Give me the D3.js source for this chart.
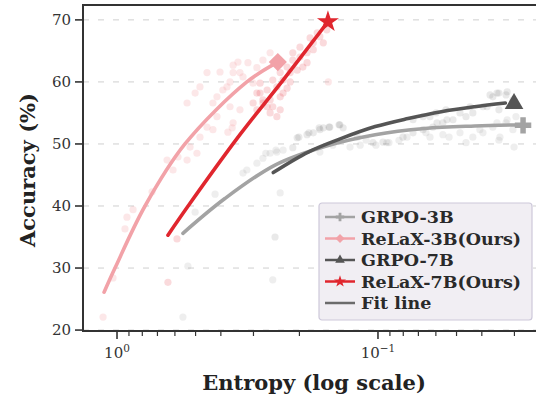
<!DOCTYPE html>
<html>
<head>
<meta charset="utf-8">
<script src="https://cdn.jsdelivr.net/npm/d3@7"></script>
<style>
  body { margin: 0; background: #fff; }
  svg { display: block; font-family: "DejaVu Serif", serif; }
</style>
</head>
<body>
<svg id="chart" width="536" height="397"></svg>
<script>
// entropy / accuracy samples
const relax3bPoints = [
  [0.539,56.6],[0.502,58.2],[0.481,59.2],[0.452,61.5],[0.414,57.6],[0.403,61.6],[0.379,59.2],
  [0.359,62.7],[0.344,63.2],[0.329,60.8],[0.301,59.8],[0.338,55.5],[0.369,56.0],[0.429,52.3],
  [0.481,51.1],[0.525,49.5],[0.539,47.4],[0.584,47.9],[0.452,52.7],[0.414,54.4],[0.494,48.5],
  [0.643,47.4],[0.610,45.8],[0.259,64.7],[0.276,63.5],[0.291,62.3],[0.315,63.1],[0.338,61.5],
  [0.359,61.5],[0.369,60.0],[0.393,58.7],[0.429,56.6],[0.362,52.6],[0.359,53.4],[0.376,51.9],
  [0.916,38.2],[0.868,39.4],[0.932,36.3],[0.734,42.3],[1.036,28.4],[1.131,22.1],[0.155,60.0]
];
const relax7bPoints = [
  [0.157,68.4],[0.167,67.3],[0.177,66.3],[0.187,64.7],[0.199,64.0],[0.212,63.5],[0.194,62.4],
  [0.217,61.5],[0.231,60.3],[0.244,59.2],[0.223,59.0],[0.237,57.6],[0.259,57.1],[0.253,56.0],
  [0.266,58.7],[0.283,58.2],[0.276,56.6],[0.237,55.5],[0.244,54.4],[0.259,55.0],[0.187,63.1],
  [0.204,61.9],[0.171,67.9],[0.162,66.3],[0.177,65.2],[0.199,65.6],[0.212,64.7],[0.223,62.4],
  [0.237,61.5],[0.253,60.3],[0.182,67.1],[0.291,55.5],[0.276,57.1],[0.291,58.2],[0.283,59.8],
  [0.301,56.6],[0.266,56.0],[0.231,58.2],[0.217,60.0],[0.638,27.7],[0.589,34.7]
];
const grpo3bPoints = [
  [0.559,22.1],[0.535,30.3],[0.502,39.0],[0.421,41.9],[0.329,45.3],[0.318,45.8],[0.291,46.9],
  [0.276,47.7],[0.269,48.5],[0.259,48.5],[0.246,49.0],[0.244,48.7],[0.231,49.0],[0.237,42.1],
  [0.253,28.1],[0.167,48.7],[0.149,49.8],[0.128,49.5],[0.117,49.8],[0.111,50.6],[0.1018,49.8],
  [0.0924,50.2],[0.0908,50.2],[0.0831,50.6],[0.0774,51.1],[0.0655,51.8],[0.0632,51.1],[0.0564,51.5],
  [0.0534,51.1],[0.0485,51.8],[0.0460,50.2],[0.0433,51.1],[0.0407,52.3],[0.0396,51.8],[0.0350,53.4],
  [0.0344,50.6],[0.0341,51.1],[0.0323,53.4],[0.0320,53.9],[0.0304,52.3],[0.0301,49.5],[0.0296,54.4],
  [0.0363,52.7]
];
const grpo7bPoints = [
  [0.204,51.0],[0.187,51.5],[0.177,51.8],[0.167,52.3],[0.162,52.6],[0.153,52.7],[0.140,53.1],
  [0.212,49.4],[0.201,51.1],[0.184,51.8],[0.168,52.6],[0.154,52.7],[0.141,53.1],[0.136,52.6],
  [0.120,51.1],[0.1045,50.2],[0.0957,50.3],[0.0802,51.1],[0.0734,51.8],[0.0672,52.3],[0.0616,52.7],
  [0.0564,53.4],[0.0516,53.9],[0.0460,54.4],[0.0433,55.0],[0.0396,56.0],[0.0363,57.6],[0.0344,58.2],
  [0.0323,57.9],[0.0304,57.1],[0.0344,55.5],[0.0549,55.5],[0.0599,55.0],[0.0672,54.4],[0.0734,53.9],
  [0.0632,54.4],[0.0594,53.4],[0.0544,53.9],[0.0485,55.0],[0.0444,56.0],[0.0372,57.9],[0.0350,58.2],
  [0.0320,58.4],[0.0382,56.0],[0.248,35.0]
];

// fitted curves (sampled from the figure)
const relax3bFit = [[1.121,26.1],[1.018,30.0],[0.781,40.0],[0.549,50.0],[0.318,60.0],[0.242,63.2]];
const relax7bFit = [[0.638,35.3],[0.534,40.0],[0.338,51.5],[0.231,60.3],[0.1555,69.7]];
const grpo3bFit  = [[0.559,35.6],[0.386,41.2],[0.248,46.6],[0.160,49.6],[0.1025,51.5],[0.0661,52.5],[0.0426,52.9],[0.0281,53.1]];
const grpo7bFit  = [[0.252,45.4],[0.185,48.7],[0.138,50.9],[0.1025,52.8],[0.0767,54.1],[0.0572,55.2],[0.0426,56.0],[0.0325,56.6]];

// final checkpoints (end markers)
const endPoints = {
  grpo3b: [0.0278, 53.0],
  relax3b: [0.242, 63.2],
  grpo7b: [0.0301, 56.5],
  relax7b: [0.1555, 69.7]
};

const yTicks = [20, 30, 40, 50, 60, 70];
const legendLabels = ["GRPO-3B", "ReLaX-3B(Ours)", "GRPO-7B", "ReLaX-7B(Ours)", "Fit line"];

const colors = {
  grpo3b: "#a3a3a3",
  relax3b: "#f2a2a8",
  grpo7b: "#555555",
  relax7b: "#e0262e",
  fit: "#6b6b6b"
};

const svg = d3.select("#chart");
const plotLeft = 83, plotRight = 536, plotTop = 5, plotBottom = 331;

const x = d3.scaleLog().domain([1.35, 0.0248]).range([plotLeft, plotRight]);
const y = d3.scaleLinear().domain([19.85, 72.4]).range([plotBottom, plotTop]);

svg.append("clipPath").attr("id", "plotclip")
  .append("rect").attr("x", plotLeft).attr("y", plotTop)
  .attr("width", plotRight - plotLeft).attr("height", plotBottom - plotTop);

// grid
svg.append("g").selectAll("line").data(yTicks).join("line")
  .attr("x1", plotLeft).attr("x2", plotRight)
  .attr("y1", d => y(d)).attr("y2", d => y(d))
  .attr("stroke", "#cfcfcf").attr("stroke-width", 1)
  .attr("stroke-dasharray", "6,9");

const plot = svg.append("g").attr("clip-path", "url(#plotclip)");

// scatter clouds
function dots(data, color, alpha) {
  plot.append("g").selectAll("circle").data(data).join("circle")
    .attr("cx", d => x(d[0])).attr("cy", d => y(d[1]))
    .attr("r", 3.6)
    .attr("fill", color).attr("fill-opacity", alpha);
}
dots(grpo3bPoints, colors.grpo3b, 0.18);
dots(grpo7bPoints, colors.grpo7b, 0.13);
dots(relax3bPoints, colors.relax3b, 0.26);
dots(relax7bPoints, colors.relax7b, 0.17);

// fit lines
const line = d3.line().x(d => x(d[0])).y(d => y(d[1])).curve(d3.curveCatmullRom.alpha(0.5));
function fit(data, color) {
  plot.append("path").datum(data)
    .attr("d", line)
    .attr("fill", "none").attr("stroke", color)
    .attr("stroke-width", 3.6).attr("stroke-linecap", "round");
}
fit(grpo3bFit, colors.grpo3b);
fit(grpo7bFit, colors.grpo7b);
fit(relax3bFit, colors.relax3b);
fit(relax7bFit, colors.relax7b);

// end markers
const markerDefs = [
  { key: "grpo3b", type: d3.symbolCross, size: 150, rot: 0 },
  { key: "relax3b", type: d3.symbolSquare, size: 165, rot: 45 },
  { key: "grpo7b", type: d3.symbolTriangle, size: 150, rot: 0 },
  { key: "relax7b", type: d3.symbolStar, size: 150, rot: 0 }
];
svg.append("g").selectAll("path").data(markerDefs).join("path")
  .attr("d", d => d3.symbol().type(d.type).size(d.size)())
  .attr("transform", d => `translate(${x(endPoints[d.key][0])},${y(endPoints[d.key][1])}) rotate(${d.rot})`)
  .attr("fill", d => colors[d.key]);

// axes
const axisColor = "#333";
svg.append("line").attr("x1", plotLeft).attr("x2", plotLeft).attr("y1", plotTop).attr("y2", plotBottom + 1)
  .attr("stroke", axisColor).attr("stroke-width", 2);
svg.append("line").attr("x1", plotLeft - 1).attr("x2", plotRight).attr("y1", plotTop).attr("y2", plotTop)
  .attr("stroke", axisColor).attr("stroke-width", 2);
svg.append("line").attr("x1", plotLeft - 1).attr("x2", plotRight).attr("y1", plotBottom).attr("y2", plotBottom)
  .attr("stroke", axisColor).attr("stroke-width", 2);

// y ticks
const yt = svg.append("g");
yt.selectAll("line").data(yTicks).join("line")
  .attr("x1", plotLeft - 8).attr("x2", plotLeft)
  .attr("y1", d => y(d)).attr("y2", d => y(d))
  .attr("stroke", axisColor).attr("stroke-width", 1.6);
yt.selectAll("text").data(yTicks).join("text")
  .attr("x", plotLeft - 12).attr("y", d => y(d)).attr("dy", "0.36em")
  .attr("text-anchor", "end").attr("font-size", 15).attr("fill", "#333")
  .text(d => d);

// x ticks (log)
function isMajor(v) { return Math.abs(Math.log10(v) - Math.round(Math.log10(v))) < 1e-6; }
const xTickVals = x.ticks().filter(v => v <= 1.35 && v >= 0.0248);
const xt = svg.append("g");
xt.selectAll("line").data(xTickVals).join("line")
  .attr("x1", d => x(d)).attr("x2", d => x(d))
  .attr("y1", plotBottom).attr("y2", d => plotBottom + (isMajor(d) ? 8 : 5))
  .attr("stroke", axisColor).attr("stroke-width", d => isMajor(d) ? 1.6 : 1.2);
const majors = xTickVals.filter(isMajor);
const xl = xt.selectAll("text").data(majors).join("text")
  .attr("x", d => x(d)).attr("y", 358)
  .attr("text-anchor", "middle").attr("font-size", 15).attr("fill", "#333");
xl.append("tspan").text("10");
xl.append("tspan").attr("dy", -6).attr("font-size", 10.5)
  .text(d => { const e = Math.round(Math.log10(d)); return e < 0 ? "\u2212" + (-e) : e; });

// axis titles
svg.append("text").attr("x", 314).attr("y", 390)
  .attr("text-anchor", "middle").attr("font-size", 21).attr("font-weight", "bold").attr("fill", "#222")
  .text("Entropy (log scale)");
svg.append("text").attr("transform", "translate(35,170) rotate(-90)")
  .attr("text-anchor", "middle").attr("font-size", 21).attr("font-weight", "bold").attr("fill", "#222")
  .text("Accuracy (%)");

// legend
const lg = svg.append("g").attr("transform", "translate(319,203)");
lg.append("rect").attr("width", 213).attr("height", 117).attr("rx", 3)
  .attr("fill", "#f1eef3").attr("stroke", "#cdc8da").attr("stroke-width", 1.2);
const legendItems = [
  { key: "grpo3b", type: d3.symbolCross, size: 40, rot: 0 },
  { key: "relax3b", type: d3.symbolSquare, size: 40, rot: 45 },
  { key: "grpo7b", type: d3.symbolTriangle, size: 40, rot: 0 },
  { key: "relax7b", type: d3.symbolStar, size: 45, rot: 0 },
  { key: "fit", type: null }
];
legendItems.forEach((d, i) => {
  const g = lg.append("g").attr("transform", `translate(0,${14 + i * 21.5})`);
  g.append("line").attr("x1", 6).attr("x2", 36).attr("y1", 0).attr("y2", 0)
    .attr("stroke", colors[d.key]).attr("stroke-width", 2.5);
  if (d.type) {
    g.append("path").attr("d", d3.symbol().type(d.type).size(d.size)())
      .attr("transform", `translate(21,0) rotate(${d.rot})`)
      .attr("fill", colors[d.key]);
  }
  g.append("text").attr("x", 42).attr("y", 0).attr("dy", "0.35em")
    .attr("font-size", 17.5).attr("font-weight", "bold").attr("fill", "#2a2a2a")
    .text(legendLabels[i]);
});
</script>
</body>
</html>
